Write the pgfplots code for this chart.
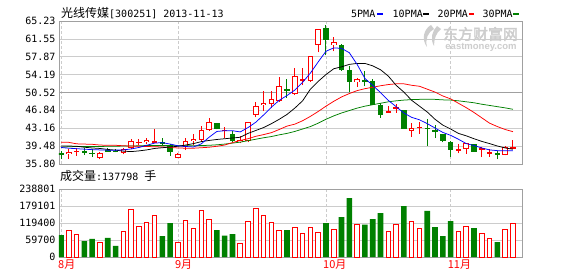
\documentclass[border=0pt]{standalone}
\usepackage{fontspec}
\usepackage{pgfplots}
\usepackage{pgfplotstable}
\pgfplotsset{compat=1.18}
\newfontfamily\cjk{Noto Sans CJK SC}
\newfontfamily\cjkwm[FakeBold=2.5]{Noto Sans CJK SC}
\newfontfamily\mono{DejaVu Sans Mono}
\newfontfamily\lsans{Liberation Sans}
\definecolor{kred}{RGB}{255,0,0}
\definecolor{kgreen}{RGB}{0,128,0}
\definecolor{kblue}{RGB}{0,0,255}
\definecolor{gridc}{RGB}{204,204,204}
\definecolor{midc}{RGB}{160,160,160}
\definecolor{framec}{RGB}{160,160,160}
\definecolor{wmc}{RGB}{205,205,205}

% up (red, hollow) candles
\pgfplotstableread{
i o h l c
1 37.8 38.8 36.9 38.33
2 38.35 39.0 37.5 38.55
5 37.1 38.2 36.77 38.13
8 38.0 39.05 37.8 38.8
9 39.0 40.95 38.83 40.45
10 40.15 40.88 39.71 40.3
11 40.25 41.15 39.85 40.74
12 40.35 43.0 40.1 40.45
15 37.0 38.0 36.95 37.85
16 39.23 41.2 38.68 40.53
17 40.5 41.97 39.7 40.95
18 40.68 43.68 40.4 42.8
19 42.8 45.2 42.6 44.38
21 42.6 43.48 41.1 42.8
23 40.27 41.6 40.06 40.74
24 40.6 44.5 40.27 44.5
25 45.95 48.5 45.4 47.74
26 47.9 50.8 46.7 48.4
27 48.1 50.8 47.26 49.2
28 48.83 53.77 48.62 51.85
30 50.15 55.5 50.0 53.9
31 53.0 55.6 52.0 53.2
32 52.82 57.96 52.7 57.96
33 60.23 63.58 58.79 63.58
35 60.23 61.94 59.0 60.9
38 52.6 53.6 51.65 53.3
42 46.4 47.67 46.4 46.7
43 47.3 48.15 46.3 47.5
45 42.6 44.3 41.45 43.3
46 43.3 44.5 42.0 43.4
51 38.68 39.85 38.0 38.85
52 38.83 40.12 37.86 40.12
54 38.85 39.35 37.2 38.95
55 37.8 38.83 37.3 38.2
57 37.6 39.5 37.6 39.23
58 38.95 40.74 38.95 39.2
}\upc
% down (green, filled) candles
\pgfplotstableread{
i o h l c
0 38.0 38.5 36.8 37.6
3 38.55 39.0 37.65 38.0
4 38.1 38.83 37.2 38.0
6 38.6 39.0 38.3 38.5
7 38.55 38.8 38.2 38.3
13 40.3 41.2 39.7 40.05
14 39.71 39.9 37.45 38.2
20 44.17 44.3 42.9 43.07
22 42.0 42.65 40.27 40.53
29 51.2 53.3 49.44 50.9
34 63.8 64.35 58.17 61.4
36 60.23 60.56 55.0 55.2
37 55.2 55.9 50.6 52.7
39 53.0 54.9 51.8 52.8
40 52.82 53.3 47.88 47.88
41 47.88 48.35 45.27 45.82
44 46.9 46.95 43.0 43.0
47 43.3 45.06 39.57 43.05
48 42.7 43.83 41.1 42.5
49 41.97 42.05 40.27 40.53
50 40.4 40.45 37.3 38.68
53 39.85 39.9 38.33 38.33
56 38.0 38.54 36.77 37.7
}\downc
% volumes
\pgfplotstableread{
i v
1 94000
2 80000
5 52000
8 90600
9 167000
10 107000
11 121000
12 146000
15 52000
16 129000
17 101000
18 165000
19 133000
23 48000
24 126000
25 170000
26 147000
27 122000
28 94000
30 104000
31 82000
32 104000
33 86000
35 98000
38 114000
42 91000
43 114000
45 126000
46 101000
51 91000
52 108000
54 82000
55 66000
57 98000
58 118000
}\upv
\pgfplotstableread{
i v
0 76500
3 56000
4 63500
6 67000
7 39000
13 73000
14 119000
20 94000
21 75000
22 80000
29 94000
34 119000
36 140000
37 207000
39 114000
40 133000
41 154000
44 179000
47 162000
48 105000
49 73000
50 126000
53 101000
56 52000
}\downv
% moving averages
\pgfplotstableread{
i m5 m10 m20 m30
0 39.2 39.5 40.3 39.25
1 39.05 39.5 40.25 39.35
2 38.95 39.45 39.95 39.4
3 38.85 39.25 39.9 39.4
4 38.75 39.1 39.85 39.4
5 38.7 39.0 39.7 39.4
6 38.65 38.8 39.65 39.45
7 38.65 38.65 39.65 39.45
8 38.7 38.45 39.55 39.5
9 38.9 38.35 39.5 39.5
10 39.2 38.5 39.45 39.55
11 39.65 38.7 39.4 39.6
12 40.1 39.0 39.35 39.6
13 40.2 39.15 39.3 39.6
14 39.9 39.3 39.2 39.6
15 39.55 39.45 39.1 39.55
16 39.4 39.7 39.05 39.55
17 39.3 40.0 39.05 39.55
18 39.95 40.4 39.15 39.6
19 41.3 40.65 39.25 39.65
20 42.5 40.85 39.45 39.75
21 42.65 41.0 39.7 39.9
22 42.65 41.15 40.2 40.1
23 42.4 41.3 40.65 40.3
24 43.3 42.1 41.0 40.6
25 44.4 42.7 41.5 40.9
26 45.9 43.3 41.85 41.2
27 47.5 44.1 42.25 41.45
28 48.9 45.0 42.9 41.8
29 49.9 46.0 43.6 42.1
30 51.0 47.3 44.0 42.5
31 52.6 48.8 44.7 43.0
32 54.5 51.2 45.6 43.5
33 56.8 52.8 46.6 44.2
34 59.0 54.2 47.7 45.0
35 59.7 55.4 48.7 45.7
36 59.6 55.8 49.6 46.3
37 58.7 56.3 50.3 46.8
38 56.3 56.5 50.9 47.3
39 53.4 56.5 51.3 47.7
40 52.0 56.0 51.6 48.0
41 50.5 55.2 51.9 48.3
42 48.9 53.9 52.15 48.6
43 47.6 52.0 52.3 48.8
44 46.3 50.6 52.3 48.95
45 45.4 48.9 52.0 49.05
46 44.9 47.7 51.8 49.1
47 44.1 46.5 51.2 49.15
48 43.2 45.0 50.6 49.1
49 42.3 43.8 49.8 49.0
50 41.7 43.0 49.2 48.95
51 40.9 42.1 48.3 48.8
52 40.0 41.6 47.4 48.6
53 39.6 41.0 46.4 48.4
54 39.1 40.45 45.3 48.1
55 38.7 40.0 44.2 47.85
56 38.55 39.5 43.5 47.6
57 38.55 39.1 42.9 47.35
58 38.55 38.85 42.45 47.06
}\ma

\pgfplotsset{
  kbase/.style={
    scale only axis, width=463pt,
    xmin=-0.26, xmax=59.16,
    axis line style={framec, line width=0.8pt},
    tick style={draw=none},
    xtick={0,15,34,50},
    xmajorgrids, ymajorgrids,
    x grid style={gridc, line width=0.7pt, dash pattern=on 3pt off 2pt},
    y grid style={gridc, line width=0.7pt},
    yticklabel style={font=\mono\fontsize{10}{12}\selectfont, text=black},
    clip=true,
  },
  candle/.style={only marks, mark=*, mark size=0.1pt, mark options={opacity=0}, forget plot},
}

\begin{document}
\begin{tikzpicture}
\useasboundingbox (0pt,0pt) rectangle (578pt,276pt);
\fill[white] (0pt,0pt) rectangle (578pt,276pt);

% watermark
\fill[wmc] (431pt,251pt) .. controls (424pt,247pt) and (421pt,237pt) .. (427pt,229pt)
  .. controls (425pt,237pt) and (428pt,244pt) .. (434pt,247pt) -- cycle;
\fill[wmc] (437pt,250pt) .. controls (432pt,245pt) and (430pt,237pt) .. (434pt,230pt)
  .. controls (434pt,237pt) and (436pt,243pt) .. (441pt,247pt) -- cycle;
\node[anchor=center, inner sep=0pt, text=wmc] at (480.5pt,242pt) {\cjkwm\fontsize{15}{15}\selectfont 东方财富网};
\node[anchor=center, inner sep=0pt, text=wmc] at (481pt,229pt) {\lsans\bfseries\fontsize{9.5}{10}\selectfont eastmoney.com};

% price panel
\begin{axis}[kbase, at={(59pt,112pt)}, anchor=south west, height=143pt,
  ymin=35.80, ymax=65.23,
  ytick={35.80,39.48,43.16,46.84,50.52,54.19,57.87,61.55,65.23},
  yticklabels={35.80,39.48,43.16,46.84,50.52,54.19,57.87,61.55,65.23},
  xticklabels={},
  extra y ticks={50.52}, extra y tick labels={},
  extra y tick style={y grid style={midc, line width=0.9pt}},
]
% wicks
\addplot[candle, error bars/.cd, y dir=plus, y explicit, error mark=none,
  error bar style={kred, line width=1pt}]
  table[x=i, y=l, y error plus expr=\thisrow{h}-\thisrow{l}] {\upc};
\addplot[candle, error bars/.cd, y dir=plus, y explicit, error mark=none,
  error bar style={kgreen, line width=1pt}]
  table[x=i, y=l, y error plus expr=\thisrow{h}-\thisrow{l}] {\downc};
% bodies
\addplot[candle, error bars/.cd, y dir=both, y explicit, error mark=none,
  error bar style={kred, line width=5.5pt}]
  table[x=i, y expr=(\thisrow{o}+\thisrow{c})/2, y error expr={max(abs(\thisrow{c}-\thisrow{o})/2,0.11)}] {\upc};
\addplot[candle, error bars/.cd, y dir=both, y explicit, error mark=none,
  error bar style={white, line width=3.5pt}]
  table[x=i, y expr=(\thisrow{o}+\thisrow{c})/2, y error expr={max(abs(\thisrow{c}-\thisrow{o})/2-0.206,0)}] {\upc};
\addplot[candle, error bars/.cd, y dir=both, y explicit, error mark=none,
  error bar style={kgreen, line width=5.5pt}]
  table[x=i, y expr=(\thisrow{o}+\thisrow{c})/2, y error expr={max(abs(\thisrow{c}-\thisrow{o})/2,0.11)}] {\downc};
% moving averages
\addplot[kgreen, line width=0.75pt, mark=none] table[x=i, y=m30] {\ma};
\addplot[kred, line width=0.75pt, mark=none] table[x=i, y=m20] {\ma};
\addplot[black, line width=0.75pt, mark=none] table[x=i, y=m10] {\ma};
\addplot[kblue, line width=0.75pt, mark=none] table[x=i, y=m5] {\ma};
\end{axis}

% volume panel
\begin{axis}[kbase, at={(59pt,19pt)}, anchor=south west, height=68pt,
  ymin=0, ymax=238801,
  ytick={0,59700,119400,179101,238801},
  yticklabels={0,59700,119400,179101,238801},
  xticklabels={8月,9月,10月,11月},
  xticklabel style={font=\cjk\fontsize{11}{12}\selectfont, text=kred, anchor=north west, inner sep=0pt, xshift=-3pt, yshift=-3pt},
  scaled y ticks=false,
]
\addplot[ybar, bar width=4.5pt, bar shift=0pt, draw=kred, fill=white, line width=1pt] table[x=i, y=v] {\upv};
\addplot[ybar, bar width=5.6pt, bar shift=0pt, draw=none, fill=kgreen] table[x=i, y=v] {\downv};
\end{axis}

% title and labels
\node[anchor=west, inner sep=0pt] at (61pt,262.5pt) {{\cjk\fontsize{12}{12}\selectfont 光线传媒}{\mono\fontsize{10}{12}\selectfont[300251] 2013-11-13}};
\node[anchor=west, inner sep=0pt] at (60pt,100pt) {{\cjk\fontsize{12}{12}\selectfont 成交量}{\mono\fontsize{10}{12}\selectfont:137798 }{\cjk\fontsize{12}{12}\selectfont 手}};

% legend
\node[anchor=west, inner sep=0pt] at (351pt,262.5pt) {\mono\fontsize{10}{12}\selectfont 5PMA};
\fill[kblue] (377pt,261pt) rectangle (382.5pt,263pt);
\node[anchor=west, inner sep=0pt] at (392.5pt,262.5pt) {\mono\fontsize{10}{12}\selectfont 10PMA};
\fill[black] (423.3pt,261pt) rectangle (429pt,263pt);
\node[anchor=west, inner sep=0pt] at (437.5pt,262.5pt) {\mono\fontsize{10}{12}\selectfont 20PMA};
\fill[kred] (468.7pt,261pt) rectangle (474.3pt,263pt);
\node[anchor=west, inner sep=0pt] at (482.3pt,262.5pt) {\mono\fontsize{10}{12}\selectfont 30PMA};
\fill[kgreen] (513.3pt,261pt) rectangle (519pt,263pt);
\end{tikzpicture}
\end{document}
